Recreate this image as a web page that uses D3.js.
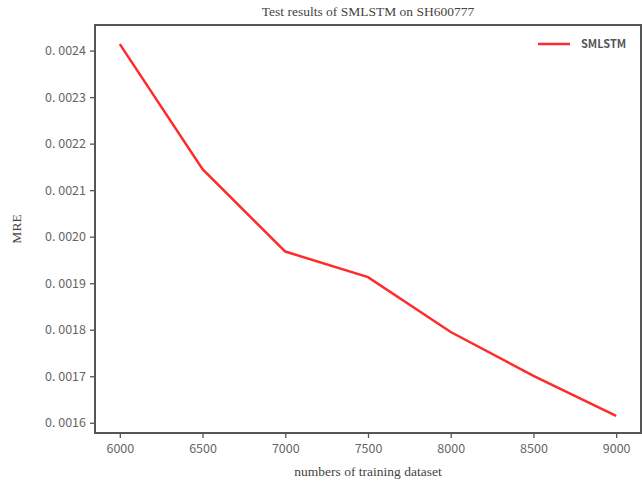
<!DOCTYPE html>
<html>
<head>
<meta charset="utf-8">
<script src="https://cdn.jsdelivr.net/npm/d3@7"></script>
<style>
  body { margin: 0; background: #fff; }
  text { font-family: "Noto Sans CJK SC", "DejaVu Sans", sans-serif; }
</style>
</head>
<body>
<script>
// data
let sizes = [6000, 6500, 7000, 7500, 8000, 8500, 9000]
let mre = [0.002414, 0.002145, 0.001968, 0.001913, 0.001795, 0.001701, 0.001615]
let xTicks = [6000, 6500, 7000, 7500, 8000, 8500, 9000]
let yTicks = [0.0016, 0.0017, 0.0018, 0.0019, 0.0020, 0.0021, 0.0022, 0.0023, 0.0024]
let seriesName = 'SMLSTM'

let w = 642
let h = 483
let m = {left: 95, right: 1, top: 25, bottom: 50}

let svg = d3.select('body').append('svg').attr('width', w).attr('height', h)

let x = d3.scaleLinear().domain([5850, 9150]).range([m.left, w - m.right])
let y = d3.scaleLinear().domain([0.001578, 0.002455]).range([h - m.bottom, m.top])

// axes
let xAxis = svg.append('g')
  .attr('transform', 'translate(0,' + (h - m.bottom) + ')')
  .call(d3.axisBottom(x).tickValues(xTicks).tickSize(5).tickPadding(6).tickSizeOuter(0)
    .tickFormat(d3.format('d')))
let yAxis = svg.append('g')
  .attr('transform', 'translate(' + m.left + ',0)')
  .call(d3.axisLeft(y).tickValues(yTicks).tickSize(5).tickPadding(4).tickSizeOuter(0)
    .tickFormat(d => '0. ' + d3.format('.4f')(d).slice(2)))

;[xAxis, yAxis].forEach(g => {
  g.select('.domain').remove()
  g.selectAll('.tick line').attr('stroke', '#555').attr('stroke-width', 1.3)
  g.selectAll('.tick text').attr('fill', '#666').attr('font-size', 12.5)
})

// frame
svg.append('rect')
  .attr('x', m.left).attr('y', m.top)
  .attr('width', w - m.right - m.left).attr('height', h - m.bottom - m.top)
  .attr('fill', 'none').attr('stroke', '#555').attr('stroke-width', 2)

// line
let line = d3.line().x((d, i) => x(sizes[i])).y(d => y(d))
svg.append('path')
  .datum(mre)
  .attr('d', line)
  .attr('fill', 'none')
  .attr('stroke', '#ff2a2a')
  .attr('stroke-width', 2.5)

// legend
svg.append('line')
  .attr('x1', 538).attr('x2', 570).attr('y1', 44).attr('y2', 44)
  .attr('stroke', '#ff2a2a').attr('stroke-width', 2.5)
svg.append('text')
  .attr('x', 581).attr('y', 48)
  .attr('font-size', 11).attr('font-weight', 'bold').attr('fill', '#555')
  .text(seriesName)

// titles
let cx = (m.left + w - m.right) / 2
svg.append('text')
  .attr('x', cx).attr('y', 16).attr('text-anchor', 'middle')
  .style('font-family', '"Liberation Serif", serif').attr('font-size', 13.5).attr('fill', '#444')
  .text('Test results of SMLSTM on SH600777')
svg.append('text')
  .attr('x', cx).attr('y', 476).attr('text-anchor', 'middle')
  .style('font-family', '"Liberation Serif", serif').attr('font-size', 13.5).attr('fill', '#444')
  .text('numbers of training dataset')
svg.append('text')
  .attr('transform', 'translate(21,' + ((m.top + h - m.bottom) / 2) + ') rotate(-90)')
  .attr('text-anchor', 'middle')
  .style('font-family', '"Liberation Serif", serif').attr('font-size', 13.5).attr('fill', '#444')
  .text('MRE')
</script>
</body>
</html>
